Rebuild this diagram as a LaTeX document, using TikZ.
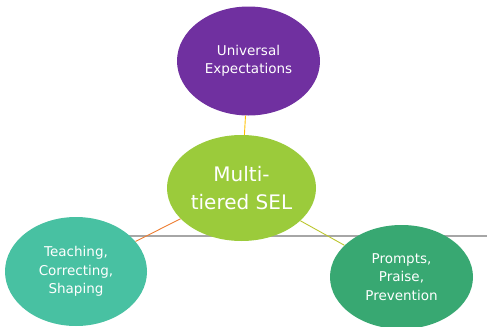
\documentclass[tikz,border=0pt]{standalone}
\usepackage{fontspec}
\setmainfont{DejaVu Sans}
\usetikzlibrary{shapes.geometric}

\definecolor{topfill}{HTML}{7030A0}
\definecolor{hubfill}{HTML}{9BCB3B}
\definecolor{leftfill}{HTML}{48C1A2}
\definecolor{rightfill}{HTML}{38A872}
\definecolor{toplink}{HTML}{FFC000}
\definecolor{leftlink}{HTML}{ED7D31}
\definecolor{rightlink}{HTML}{BCC62E}
\definecolor{rulegray}{HTML}{A6A6A6}

\tikzset{
  bubble/.style={ellipse, inner sep=0pt, text=white, align=center, font=\fontsize{13.5}{18.5}\selectfont},
  link/.style={line width=0.9pt},
}

\begin{document}
\begin{tikzpicture}[x=1pt, y=-1pt]

\useasboundingbox (0,0) rectangle (488,327);

\draw[rulegray, line width=1.2pt] (100,236) -- (487,236);

\node[bubble, fill=topfill, minimum width=143pt, minimum height=109pt] (top) at (248.5,61) {Universal\\Expectations};
\node[bubble, fill=hubfill, minimum width=149pt, minimum height=106pt, font=\fontsize{20}{28.5}\selectfont] (hub) at (241.5,188) {Multi-\\tiered SEL};
\node[bubble, fill=leftfill, minimum width=142pt, minimum height=109pt] (left) at (76,271.5) {Teaching,\\Correcting,\\Shaping};
\node[bubble, fill=rightfill, minimum width=143pt, minimum height=104pt] (right) at (401.5,277) {Prompts,\\Praise,\\Prevention};

\draw[link, toplink] (hub) -- (top);
\draw[link, leftlink] (hub) -- (left);
\draw[link, rightlink] (hub) -- (right);

\end{tikzpicture}
\end{document}
